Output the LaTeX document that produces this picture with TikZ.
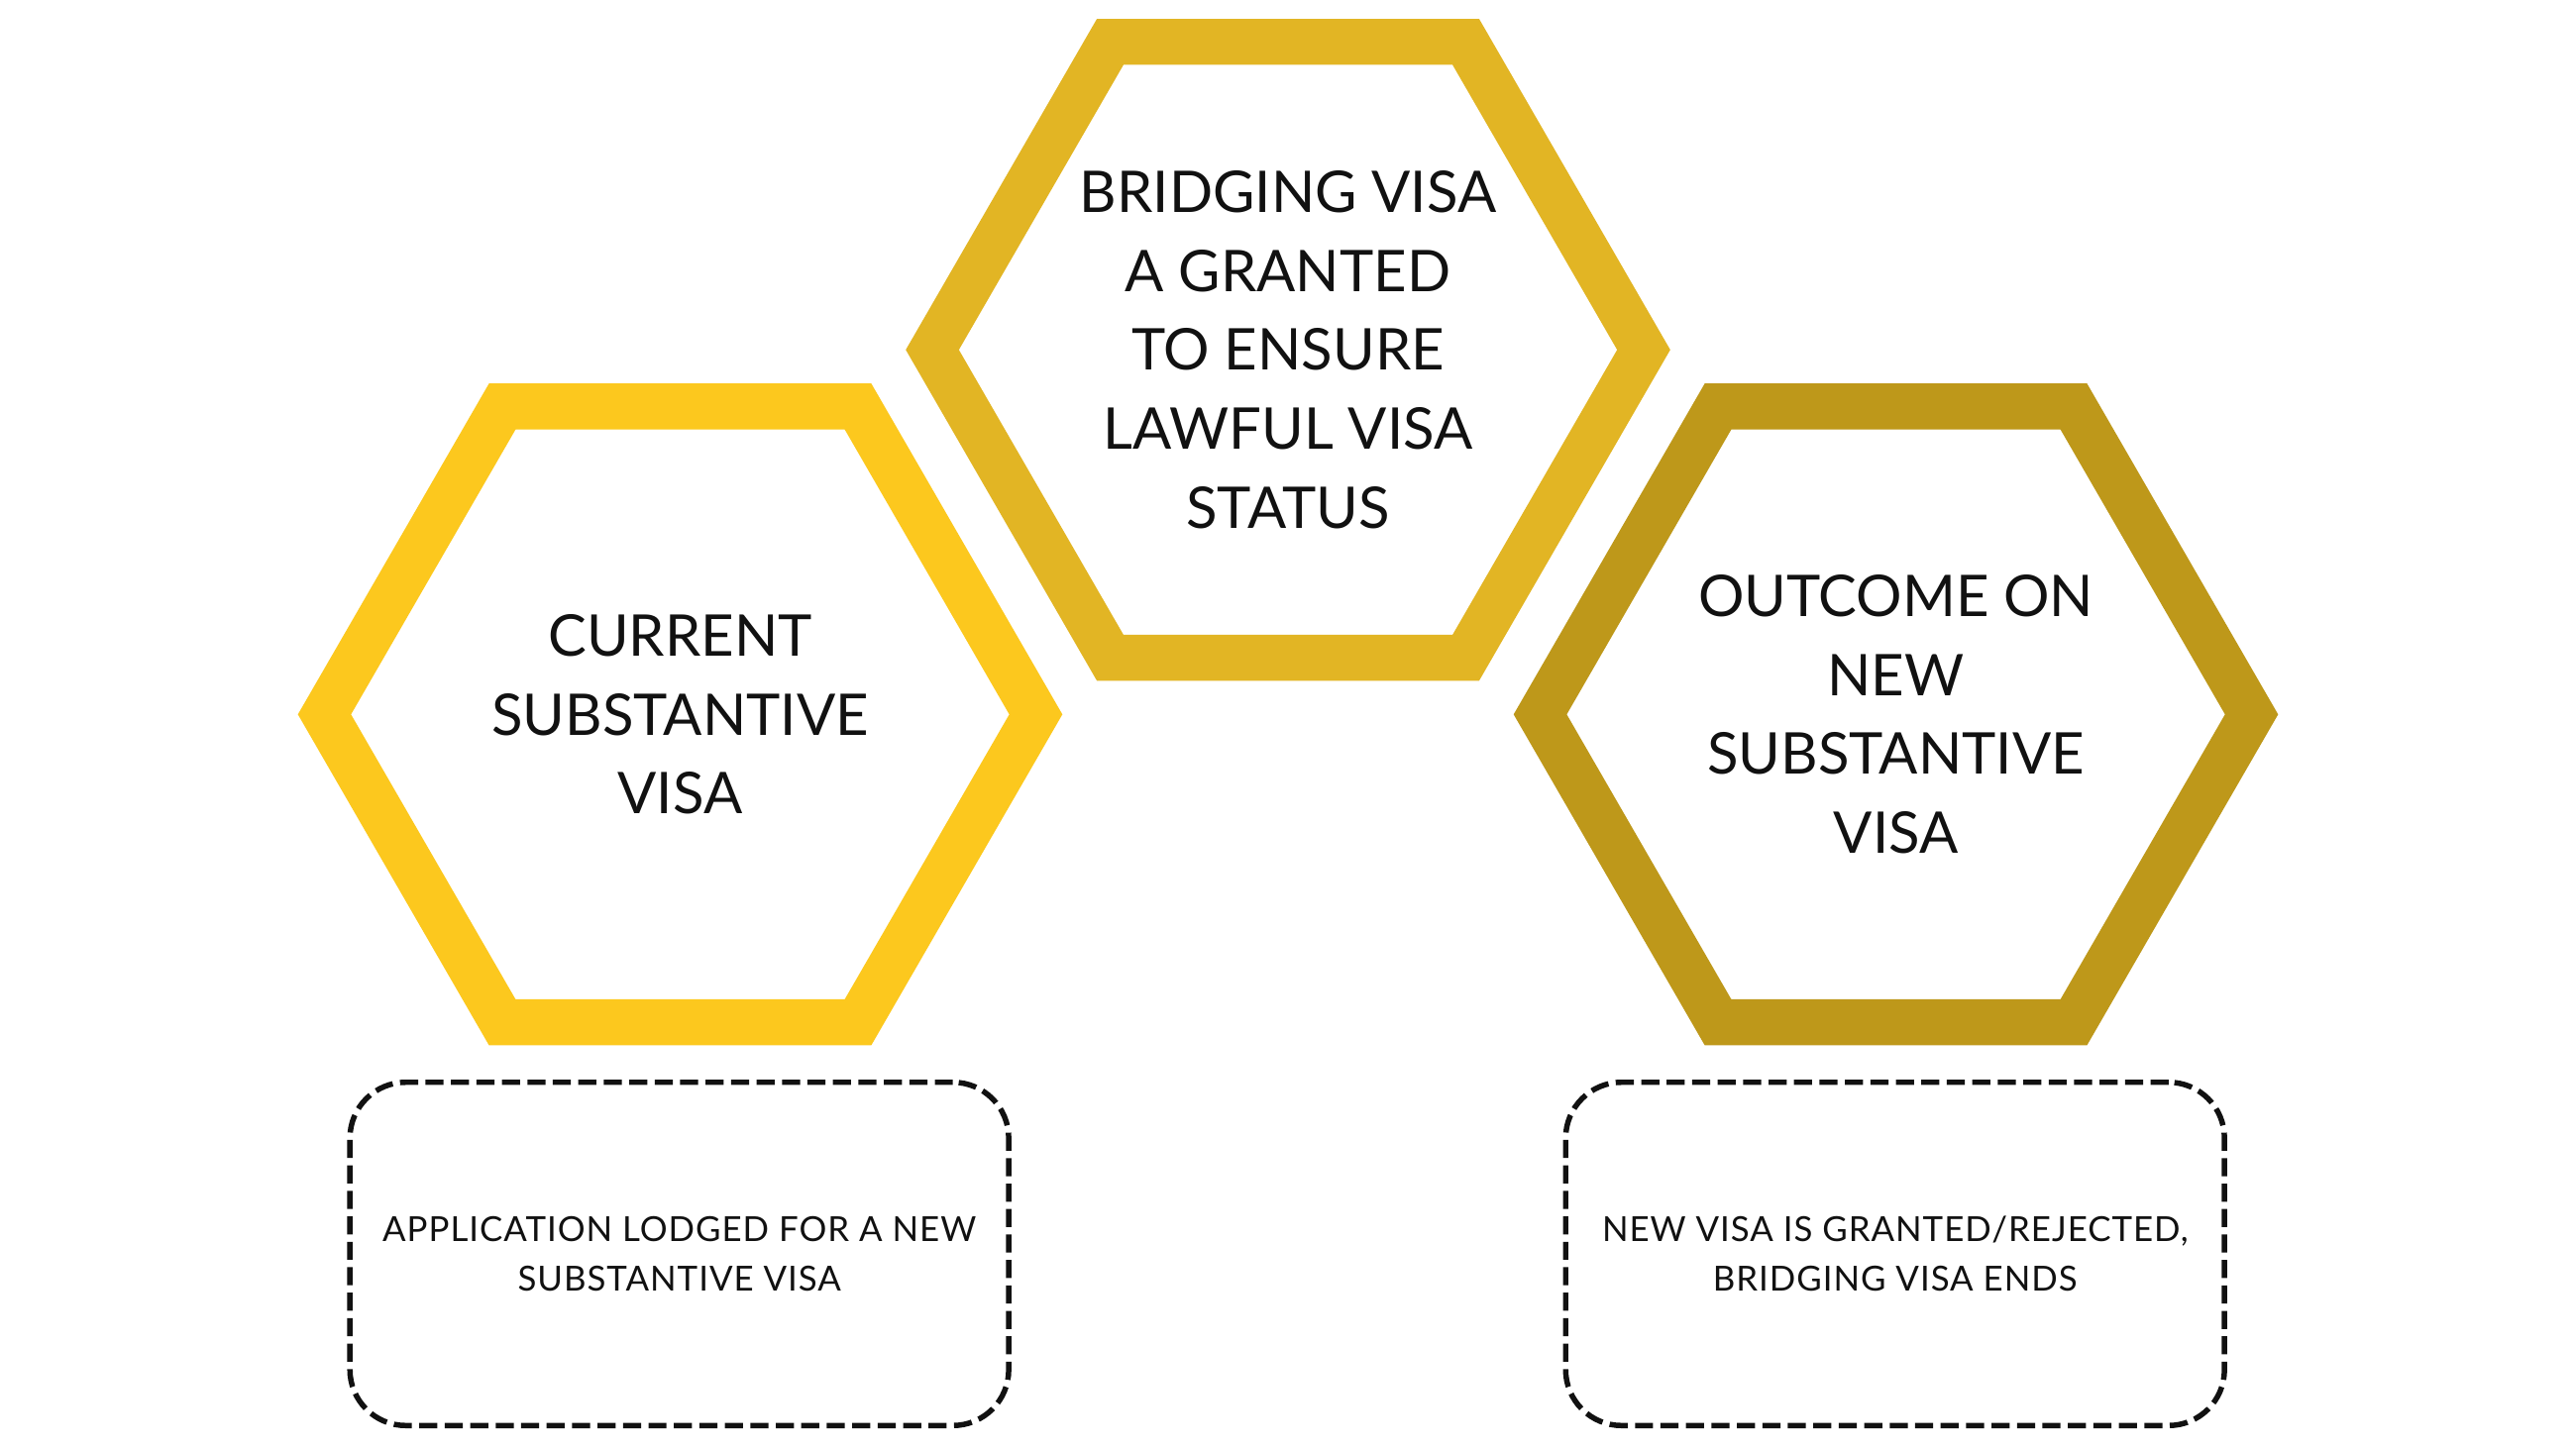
\documentclass[tikz,border=0pt]{standalone}
\usepackage{fontspec}
\setmainfont{Lato}
\newfontfamily\boxfont[LetterSpace=2.8]{Lato}
\usetikzlibrary{shapes.geometric}
\definecolor{hexA}{HTML}{FCC81E}
\definecolor{hexB}{HTML}{E2B524}
\definecolor{hexC}{HTML}{BE981A}
\definecolor{ink}{HTML}{111111}
\begin{document}
\begin{tikzpicture}[x=1pt,y=-1pt,
  hexnode/.style={regular polygon, regular polygon sides=6, minimum size=433pt,
    inner sep=0pt, line width=28pt, align=center, text=ink,
    font=\fontsize{35}{48}\selectfont},
  notebox/.style={rectangle, draw=ink, line width=3.3pt, dash pattern=on 11pt off 4.5pt,
    rounded corners=34pt, minimum width=401pt, minimum height=209pt, inner sep=0pt,
    align=center, text=ink, font=\boxfont\fontsize{21}{30}\selectfont}]
\useasboundingbox (0,0) rectangle (1568,882);
\fill[white] (0,0) rectangle (1568,882);
\node[hexnode, draw=hexA] (cur) at (414,435) {CURRENT\\SUBSTANTIVE\\VISA};
\node[hexnode, draw=hexB] (bri) at (784,213) {BRIDGING VISA\\A GRANTED\\TO ENSURE\\LAWFUL VISA\\STATUS};
\node[hexnode, draw=hexC] (out) at (1154,435) {OUTCOME ON\\NEW\\SUBSTANTIVE\\VISA};
\node[notebox] (app) at (413.5,763.5) {APPLICATION LODGED FOR A NEW\\SUBSTANTIVE VISA};
\node[notebox] (res) at (1153.5,763.5) {NEW VISA IS GRANTED/REJECTED,\\BRIDGING VISA ENDS};
\end{tikzpicture}
\end{document}
